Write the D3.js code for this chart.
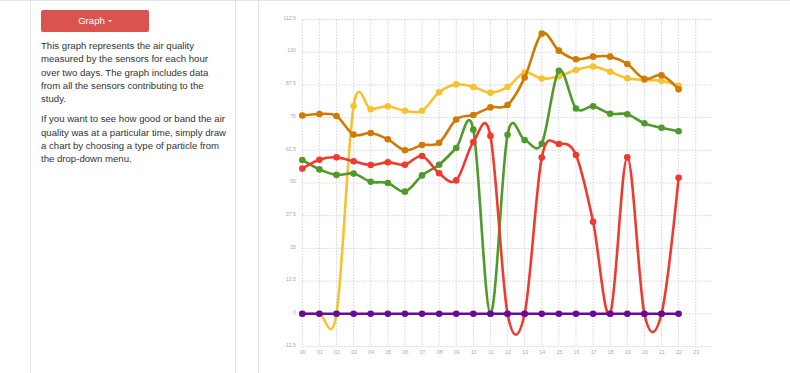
<!DOCTYPE html>
<html><head><meta charset="utf-8">
<script src="https://cdn.jsdelivr.net/npm/d3@7"></script>
<style>
html,body{margin:0;padding:0;width:790px;height:373px;overflow:hidden;background:#fff;font-family:"Liberation Sans",Arial,sans-serif;}
#topline{position:absolute;left:0;top:0;width:790px;height:1px;background:#e6e6e6;}
#leftcard{position:absolute;left:30px;top:0;width:206px;height:400px;border:1px solid #e3e3e3;box-sizing:border-box;}
#rightcard{position:absolute;left:258px;top:0;width:600px;height:400px;border:1px solid #e3e3e3;box-sizing:border-box;}
#btn{position:absolute;left:41px;top:10px;width:108px;height:22px;background:#d9534f;border-radius:2px;color:#fff;font-size:9.6px;line-height:22px;text-align:center;}
.caret{display:inline-block;width:0;height:0;border-left:2.5px solid transparent;border-right:2.5px solid transparent;border-top:2.5px solid #fff;vertical-align:middle;margin-left:3px;}
#txt{position:absolute;left:41px;top:39px;width:190px;color:#333;font-size:9.6px;line-height:13.33px;}
#txt p{margin:0 0 6.7px 0;white-space:nowrap;}
svg{position:absolute;left:0;top:0;}
</style></head>
<body>
<div id="topline"></div>
<div id="leftcard"></div>
<div id="rightcard"></div>
<div id="btn">Graph<span class="caret"></span></div>
<div id="txt">
<p>This graph represents the air quality<br>measured by the sensors for each hour<br>over two days. The graph includes data<br>from all the sensors contributing to the<br>study.</p>
<p>If you want to see how good or band the air<br>quality was at a particular time, simply draw<br>a chart by choosing a type of particle from<br>the drop-down menu.</p>
</div>
<svg id="chart" width="790" height="373"></svg>
<script>
const hourLabels = ["00","01","02","03","04","05","06","07","08","09","10","11","12","13","14","15","16","17","18","19","20","21","22","23"];
const yTicks = [-12.5,0,12.5,25,37.5,50,62.5,75,87.5,100,112.5];
const yellowVals = [0,0,0,79.4,78.2,79.3,77.6,77.6,84.7,87.7,86.7,84.5,86.7,92.2,89.9,90.8,93.2,94.5,92.5,90,89.4,89.1,87.2];
const orangeVals = [75.8,76.4,75.6,68.5,69.1,66.7,62.5,64.5,65.4,74.3,76,78.9,79.8,90.3,107.1,100.6,97.3,98.3,98.3,95.5,89.8,91.2,85.8];
const greenVals  = [58.8,55.2,53.1,53.6,50.5,50,46.7,52.9,57,63.4,70.4,0,68.4,66.4,65,92.9,78.5,79.3,76.5,76.3,72.8,71.1,69.8];
const redVals    = [55.5,58.9,59.8,58.3,56.9,57.9,57,60.3,53.7,51,65.7,68,0,0,59.7,64.9,60.7,35.2,0,59.8,0,0,52];
const purpleVals = [0,0,0,0,0,0,0,0,0,0,0,0,0,0,0,0,0,0,0,0,0,0,0];
const seriesColors = ["#f6c232","#d07a00","#4f9a2a","#ee3b2d","#680a99"];

const svg = d3.select("#chart");
const x = d3.scaleLinear().domain([0,23]).range([302.3,695.7]);
const y = d3.scaleLinear().domain([-12.5,112.5]).range([346.5,19.5]);
const xEnd = x(23)+16;

const grid = svg.append("g");
grid.selectAll("line.h").data(yTicks).join("line")
  .attr("x1",x(0)).attr("x2",xEnd).attr("y1",d=>y(d)).attr("y2",d=>y(d))
  .attr("stroke","#c8c8c8").attr("stroke-width",1).attr("stroke-dasharray","1.2,1.8");
grid.selectAll("line.v").data(hourLabels).join("line")
  .attr("x1",(d,i)=>x(i)).attr("x2",(d,i)=>x(i)).attr("y1",y(112.5)).attr("y2",y(-12.5))
  .attr("stroke","#c8c8c8").attr("stroke-width",1).attr("stroke-dasharray","1.2,1.8");

const yAxis = svg.append("g").attr("transform","translate(296,0)")
  .call(d3.axisLeft(y).tickValues(yTicks).tickSize(0).tickPadding(0).tickFormat(d=>String(d)));
yAxis.select(".domain").remove();
yAxis.selectAll("text").attr("fill","#aaa").attr("font-size","5.2px").attr("font-family","Liberation Sans, Arial").attr("dy","-0.05em");

const xAxis = svg.append("g").attr("transform","translate(0,350)")
  .call(d3.axisBottom(x).tickValues(d3.range(24)).tickSize(0).tickPadding(0).tickFormat(i=>hourLabels[i]));
xAxis.select(".domain").remove();
xAxis.selectAll("text").attr("fill","#aaa").attr("font-size","5.2px").attr("font-family","Liberation Sans, Arial");

const line = d3.line().x((d,i)=>x(i)).y(d=>y(d)).curve(d3.curveCardinal.tension(0));
const all = [yellowVals,orangeVals,greenVals,redVals,purpleVals];
all.forEach((vals,k)=>{
  const g = svg.append("g");
  g.append("path").datum(vals).attr("d",line).attr("fill","none")
    .attr("stroke",seriesColors[k]).attr("stroke-width",2.6).attr("stroke-linejoin","round");
  g.selectAll("circle").data(vals).join("circle")
    .attr("cx",(d,i)=>x(i)).attr("cy",d=>y(d)).attr("r",3.3).attr("fill",seriesColors[k]);
});
</script>
</body></html>
